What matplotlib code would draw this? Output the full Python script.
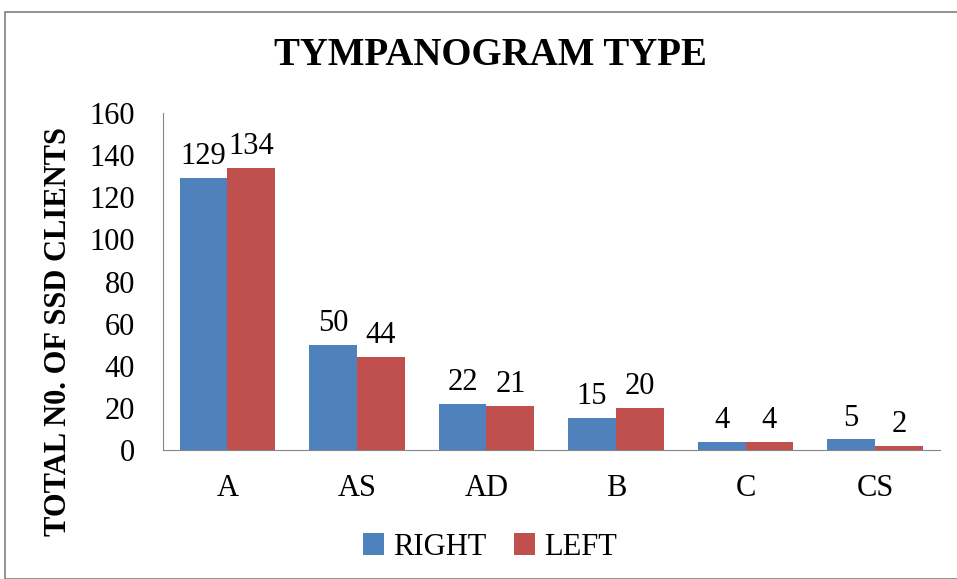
import numpy as np
import matplotlib.pyplot as plt
from matplotlib.patches import Rectangle

plt.rcParams['font.family'] = ['Liberation Serif', 'DejaVu Serif']

categories = ['A', 'AS', 'AD', 'B', 'C', 'CS']
right_vals = [129, 50, 22, 15, 4, 5]
left_vals = [134, 44, 21, 20, 4, 2]

fig = plt.figure(figsize=(9.57, 5.79), dpi=100)
ax = fig.add_axes([0.170, 0.2228, 0.812, 0.582])

x = np.arange(len(categories))
w = 0.37
b1 = ax.bar(x - w / 2, right_vals, w, color='#4F81BD', label='RIGHT')
b2 = ax.bar(x + w / 2, left_vals, w, color='#C0504D', label='LEFT')

for bars, vals in ((b1, right_vals), (b2, left_vals)):
    for bar, v in zip(bars, vals):
        ax.annotate(str(v), (bar.get_x() + bar.get_width() / 2, v),
                    xytext=(0, 5), textcoords='offset points',
                    ha='center', va='bottom', fontsize=22)

ax.set_xlim(-0.5, len(categories) - 0.5)
ax.set_ylim(0, 160)
ax.set_yticks(range(0, 161, 20))
ax.set_xticks(x)
ax.set_xticklabels(categories)
ax.tick_params(axis='both', labelsize=22, length=0, colors='black')
ax.tick_params(axis='y', pad=20)
ax.tick_params(axis='x', pad=17)
for s in ('top', 'right'):
    ax.spines[s].set_visible(False)
ax.spines['left'].set_color('#868686')
ax.spines['bottom'].set_color('#868686')

ax.set_ylabel('TOTAL N0. OF SSD CLIENTS', fontsize=22, fontweight='bold')
ax.yaxis.set_label_coords(-0.115, 0.35)

fig.text(0.512, 0.905, 'TYMPANOGRAM TYPE', ha='center', va='center',
         fontsize=28, fontweight='bold')

fig.legend(handles=[b1, b2], labels=['RIGHT', 'LEFT'], loc='center',
           bbox_to_anchor=(0.512, 0.055), ncol=2, frameon=False, fontsize=22,
           handlelength=0.7, handleheight=0.7, handletextpad=0.3, columnspacing=0.9)

fig.patches.append(Rectangle((5 / 957, 0), 1, 1 - 12 / 579, transform=fig.transFigure,
                             fill=False, edgecolor='#7f7f7f', linewidth=1.2))

fig.savefig('out.png', dpi=100)
